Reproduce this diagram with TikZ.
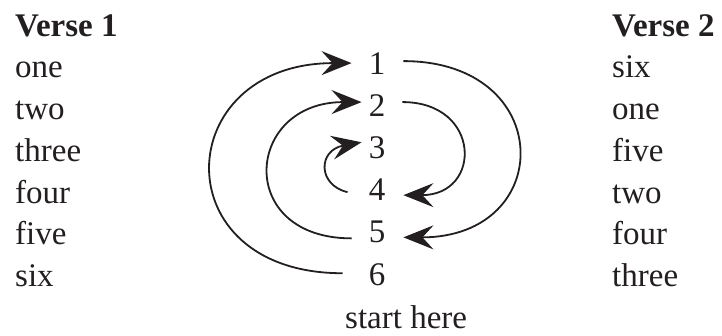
\documentclass[tikz,border=0pt]{standalone}
\usepackage{fontspec}
\setmainfont{Liberation Serif}
\usetikzlibrary{positioning,arrows.meta}
\definecolor{ink}{RGB}{35,31,32}

\begin{document}
\begin{tikzpicture}[
    x=1pt, y=-1pt,
    word/.style={anchor=base west, inner sep=0pt, text=ink, font=\fontsize{33}{40}\selectfont},
    head/.style={word, font=\fontsize{33}{40}\selectfont\bfseries},
    num/.style={anchor=base, inner ysep=0pt, inner xsep=17pt, text=ink, font=\fontsize{33}{40}\selectfont},
    arr/.style={-{Stealth[length=30pt, width=24pt, inset=11pt]}, line width=1.8pt, draw=ink},
]
\useasboundingbox (0,0) rectangle (722,335);

% Verse 1
\node[head] (v1) at (15,36) {Verse 1};
\node[word] (a1) at (15,77) {one};
\node[word] (a2) at (15,119) {two};
\node[word] (a3) at (15,161) {three};
\node[word] (a4) at (15,203) {four};
\node[word] (a5) at (15,244) {five};
\node[word] (a6) at (15,286) {six};

% Verse 2
\node[head] (v2) at (612,36) {Verse 2};
\node[word] (b1) at (612,77) {six};
\node[word] (b2) at (612,119) {one};
\node[word] (b3) at (612,161) {five};
\node[word] (b4) at (612,203) {two};
\node[word] (b5) at (612,244) {four};
\node[word] (b6) at (612,286) {three};

% Numbers
\node[num] (n1) at (377,74) {1};
\node[num] (n2) at (377,116) {2};
\node[num] (n3) at (377,158) {3};
\node[num] (n4) at (377,200) {4};
\node[num] (n5) at (377,242) {5};
\node[num] (n6) at (377,285) {6};
\node[word] (start) at (345,328) {start here};

% Arrows on the left
\draw[arr] ([xshift=-9pt,yshift=1pt]n6.west) .. controls +(-181,0) and +(-181,0) .. (n1.west);
\draw[arr] ([yshift=-7pt]n5.west) .. controls +(-117,0) and +(-117,0) .. ([xshift=10pt,yshift=3pt]n2.west);
\draw[arr] ([xshift=-4pt,yshift=-3pt]n4.west) .. controls +(-30,-7) and +(-44,8) .. ([xshift=10pt,yshift=5pt]n3.west);

% Arrows on the right
\draw[arr] ([yshift=3pt]n2.east) .. controls +(79,0) and +(79,0) .. ([xshift=1pt,yshift=-6pt]n4.east);
\draw[arr] ([xshift=1pt,yshift=2pt]n1.east) .. controls +(153,0) and +(153,0) .. ([xshift=1pt,yshift=-6pt]n5.east);
\end{tikzpicture}
\end{document}
